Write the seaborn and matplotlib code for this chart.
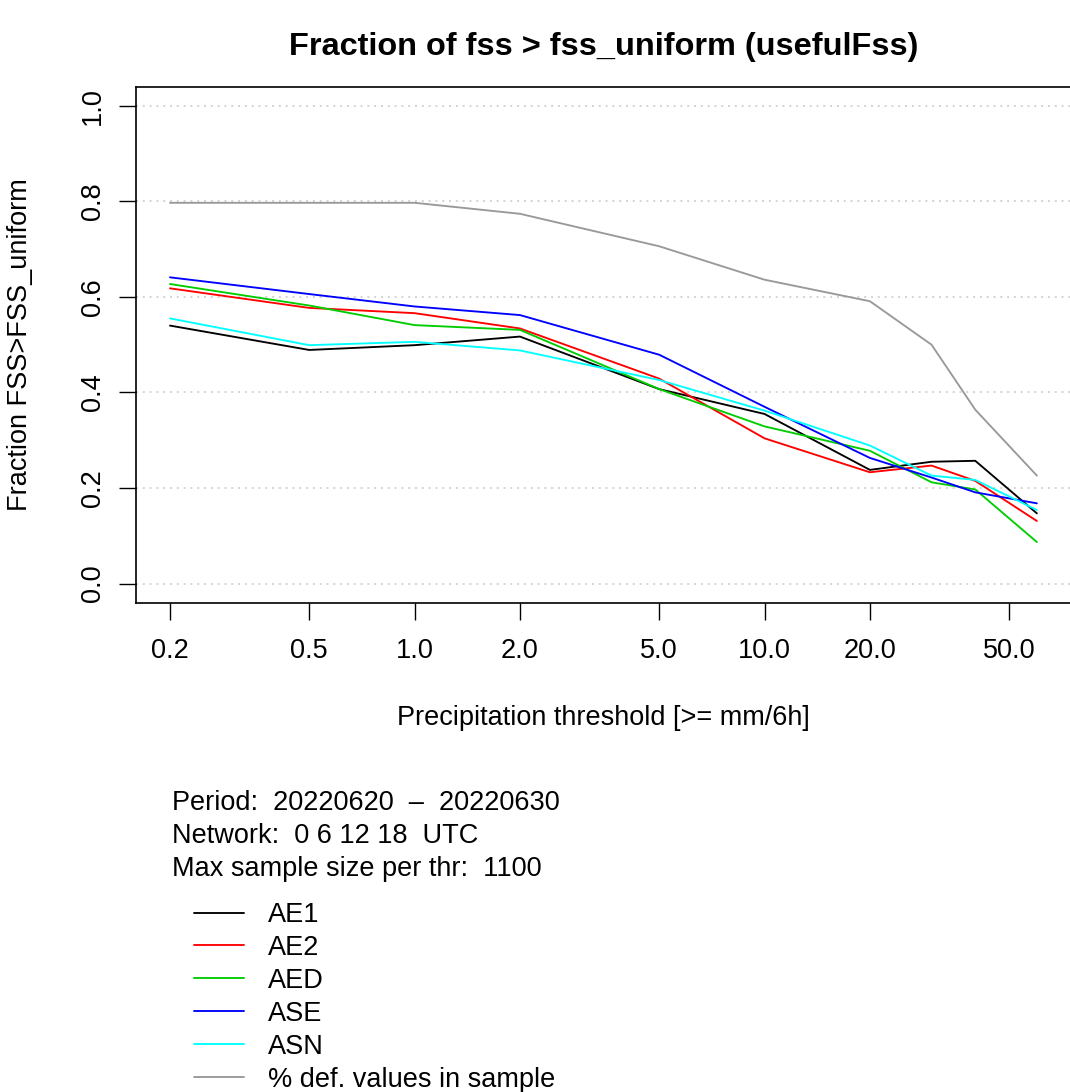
import numpy as np
import pandas as pd
import matplotlib
matplotlib.use("Agg")
import matplotlib.pyplot as plt
from matplotlib.ticker import FixedLocator, FixedFormatter, NullFormatter
import seaborn as sns

# Precipitation thresholds [mm/6h]
thresholds = [0.2, 0.5, 1.0, 2.0, 5.0, 10.0, 20.0, 30.0, 40.0, 60.0]

# Fraction of cases with FSS > FSS_uniform, per model
ae1 = [0.540, 0.489, 0.499, 0.517, 0.407, 0.355, 0.238, 0.255, 0.257, 0.147]
ae2 = [0.618, 0.577, 0.566, 0.534, 0.429, 0.304, 0.233, 0.247, 0.215, 0.131]
aed = [0.627, 0.582, 0.541, 0.531, 0.407, 0.329, 0.278, 0.212, 0.197, 0.087]
ase = [0.641, 0.606, 0.580, 0.562, 0.479, 0.370, 0.263, 0.222, 0.191, 0.168]
asn = [0.555, 0.499, 0.506, 0.488, 0.426, 0.362, 0.289, 0.226, 0.217, 0.154]
# Share of defined values in the sample
defined = [0.797, 0.797, 0.797, 0.774, 0.706, 0.636, 0.591, 0.500, 0.364, 0.226]

series_names = ["AE1", "AE2", "AED", "ASE", "ASN", "% def. values in sample"]
series_values = [ae1, ae2, aed, ase, asn, defined]
series_colors = ["#000000", "#FF0000", "#00CD00", "#0000FF", "#00FFFF", "#999999"]

x_ticks = [0.2, 0.5, 1.0, 2.0, 5.0, 10.0, 20.0, 50.0]
x_tick_labels = ["0.2", "0.5", "1.0", "2.0", "5.0", "10.0", "20.0", "50.0"]
y_ticks = [0.0, 0.2, 0.4, 0.6, 0.8, 1.0]
y_tick_labels = ["0.0", "0.2", "0.4", "0.6", "0.8", "1.0"]

info_lines = [
    "Period:  20220620  \u2013  20220630",
    "Network:  0 6 12 18  UTC",
    "Max sample size per thr:  1100",
]

df = pd.DataFrame(
    [(t, v, name) for name, vals in zip(series_names, series_values)
     for t, v in zip(thresholds, vals)],
    columns=["threshold", "fraction", "series"],
)

sns.set_style("white")
plt.rcParams["font.family"] = ["Liberation Sans", "DejaVu Sans"]
plt.rcParams.update({
    "text.color": "black",
    "axes.labelcolor": "black",
    "xtick.color": "black",
    "ytick.color": "black",
    "xtick.labelcolor": "black",
    "ytick.labelcolor": "black",
})
FS = 19.5

W, H = 1070, 1092
fig = plt.figure(figsize=(W / 100, H / 100), dpi=100)
ax_left, ax_right, ax_top, ax_bottom = 135.7, 1071.6, 86.7, 602.7
ax = fig.add_axes([ax_left / W, 1 - ax_bottom / H,
                   (ax_right - ax_left) / W, (ax_bottom - ax_top) / H])
ax.set_xscale("log")

sns.lineplot(data=df, x="threshold", y="fraction", hue="series",
             hue_order=series_names, palette=series_colors,
             linewidth=1.35, ax=ax, legend=False)

ax.set_xlim(0.1596, 75.4)
ax.set_ylim(-0.04, 1.04)

ax.xaxis.set_major_locator(FixedLocator(x_ticks))
ax.xaxis.set_major_formatter(FixedFormatter(x_tick_labels))
ax.xaxis.set_minor_locator(FixedLocator([1.0, 10.0]))
ax.xaxis.set_minor_formatter(NullFormatter())
ax.yaxis.set_major_locator(FixedLocator(y_ticks))
ax.yaxis.set_major_formatter(FixedFormatter(y_tick_labels))

ax.tick_params(axis="both", which="major", direction="out", length=12.2,
               width=1.0, color="black", labelcolor="black", labelsize=FS,
               bottom=True, left=True)
ax.tick_params(axis="x", which="major", pad=13)
ax.tick_params(axis="y", which="major", pad=9)
ax.tick_params(axis="x", which="minor", length=0)
for lab in ax.get_yticklabels():
    lab.set_rotation(90)
    lab.set_va("center")
    lab.set_ha("right")

grid_kw = dict(color="#D3D3D3", linewidth=1.4, linestyle=(0, (1, 2.5)))
ax.grid(False)
ax.yaxis.grid(True, which="major", **grid_kw)
ax.xaxis.grid(True, which="minor", **grid_kw)
ax.set_axisbelow(True)

for sp in ax.spines.values():
    sp.set_visible(True)
    sp.set_color("black")
    sp.set_linewidth(1.2)

ax.set_xlabel("Precipitation threshold [>= mm/6h]", fontsize=FS,
              va="center", color="black")
ax.xaxis.set_label_coords(0.5, -(718 - ax_bottom) / (ax_bottom - ax_top))
ax.set_ylabel("Fraction FSS>FSS_uniform", fontsize=FS, va="center",
              color="black")
ax.yaxis.set_label_coords(-(ax_left - 20) / (ax_right - ax_left), 0.5)

fig.text((ax_left + ax_right) / 2 / W, 1 - 47 / H,
         "Fraction of fss > fss_uniform (usefulFss)",
         fontsize=FS * 1.2, fontweight="bold", ha="center", va="center",
         color="black")

for i, line in enumerate(info_lines):
    fig.text(172 / W, 1 - (803 + 33 * i) / H, line, fontsize=FS,
             ha="left", va="center", color="black")

handles = ax.get_lines()[:len(series_names)]
fig.legend(handles, series_names, loc="upper left",
           bbox_to_anchor=(194 / W, 1 - 902 / H), bbox_transform=fig.transFigure,
           frameon=False, fontsize=FS, handlelength=1.85, handletextpad=0.89,
           labelspacing=0.255, borderpad=0, borderaxespad=0, labelcolor="black")

fig.savefig("out.png", dpi=100)
